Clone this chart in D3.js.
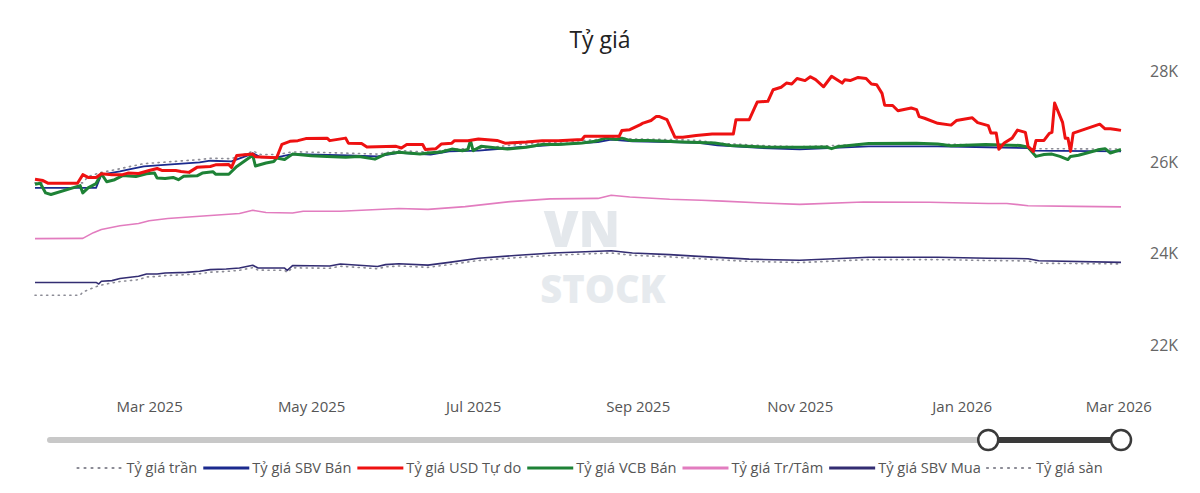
<!DOCTYPE html>
<html>
<head>
<meta charset="utf-8">
<script src="https://cdn.jsdelivr.net/npm/d3@7"></script>
<style>
  body { margin: 0; background: #fff; }
  text { font-family: "Open Sans", "Noto Sans", sans-serif; }
</style>
</head>
<body>
<div id="chart"></div>
<script>

// ---- data (VND per USD) ----
const tyGiaTran = [
  ["2025-01-17",25550],["2025-02-04",25550],["2025-02-06",25690],["2025-02-11",25780],["2025-02-18",25860],
  ["2025-02-21",25900],["2025-02-27",25970],["2025-03-08",26010],["2025-03-20",26060],["2025-03-24",26090],
  ["2025-04-01",26080],["2025-04-08",26220],["2025-04-09",26250],["2025-04-12",26170],["2025-04-18",26170],
  ["2025-04-23",26220],["2025-04-26",26230],["2025-05-15",26200],["2025-05-26",26180],["2025-06-03",26260],
  ["2025-06-15",26220],["2025-06-22",26290],["2025-07-03",26300],["2025-07-18",26390],["2025-08-02",26440],
  ["2025-08-17",26500],["2025-08-22",26550],["2025-08-30",26510],["2025-09-13",26500],["2025-09-24",26480],
  ["2025-10-01",26420],["2025-10-17",26370],["2025-11-01",26340],["2025-11-27",26400],["2025-12-23",26400],
  ["2026-01-11",26380],["2026-01-26",26360],["2026-01-27",26300],["2026-03-02",26290]
];

const sbvBan = [
  ["2025-01-17",25440],["2025-02-09",25440],["2025-02-11",25730],["2025-02-18",25800],["2025-02-21",25840],
  ["2025-02-27",25910],["2025-03-08",25950],["2025-03-20",26000],["2025-03-24",26035],["2025-04-01",26020],
  ["2025-04-08",26170],["2025-04-09",26200],["2025-04-12",26110],["2025-04-18",26110],["2025-04-23",26170],
  ["2025-04-26",26180],["2025-05-15",26150],["2025-05-26",26130],["2025-06-03",26210],["2025-06-15",26170],
  ["2025-06-22",26240],["2025-07-03",26255],["2025-07-18",26330],["2025-08-02",26390],["2025-08-17",26445],
  ["2025-08-22",26500],["2025-08-30",26460],["2025-09-13",26445],["2025-09-24",26425],["2025-10-01",26370],
  ["2025-10-17",26315],["2025-11-01",26285],["2025-11-27",26350],["2025-12-23",26350],["2026-01-11",26330],
  ["2026-01-26",26310],["2026-01-27",26255],["2026-03-02",26240]
];

const usdTuDo = [
  ["2025-01-17",25630],["2025-01-20",25600],["2025-01-22",25540],["2025-02-02",25540],["2025-02-04",25730],
  ["2025-02-06",25670],["2025-02-09",25670],["2025-02-11",25750],["2025-02-15",25730],["2025-02-19",25730],
  ["2025-02-21",25765],["2025-02-25",25755],["2025-03-01",25820],["2025-03-04",25865],["2025-03-06",25820],
  ["2025-03-11",25820],["2025-03-13",25800],["2025-03-16",25780],["2025-03-19",25890],["2025-03-24",25910],
  ["2025-03-26",25945],["2025-03-31",25950],["2025-04-01",25890],["2025-04-03",26150],["2025-04-09",26185],
  ["2025-04-10",26120],["2025-04-18",26100],["2025-04-20",26395],["2025-04-23",26460],["2025-04-26",26475],
  ["2025-04-29",26520],["2025-05-07",26530],["2025-05-08",26475],["2025-05-14",26530],["2025-05-15",26420],
  ["2025-05-20",26410],["2025-05-22",26335],["2025-06-02",26350],["2025-06-04",26315],["2025-06-06",26390],
  ["2025-06-12",26390],["2025-06-13",26280],["2025-06-17",26300],["2025-06-19",26400],["2025-06-23",26420],
  ["2025-06-24",26475],["2025-06-29",26475],["2025-07-03",26510],["2025-07-10",26480],["2025-07-13",26420],
  ["2025-07-21",26445],["2025-07-27",26475],["2025-08-02",26475],["2025-08-11",26500],["2025-08-12",26570],
  ["2025-08-25",26570],["2025-08-26",26695],["2025-08-29",26715],["2025-09-02",26825],["2025-09-03",26860],
  ["2025-09-06",26915],["2025-09-08",27005],["2025-09-09",27005],["2025-09-12",26935],["2025-09-15",26550],
  ["2025-09-18",26550],["2025-09-23",26590],["2025-09-29",26620],["2025-10-07",26620],["2025-10-08",26935],
  ["2025-10-13",26935],["2025-10-15",27190],["2025-10-16",27320],["2025-10-20",27335],["2025-10-22",27590],
  ["2025-10-25",27645],["2025-10-27",27735],["2025-10-29",27715],["2025-10-31",27835],["2025-11-03",27790],
  ["2025-11-05",27875],["2025-11-07",27810],["2025-11-10",27655],["2025-11-13",27885],["2025-11-17",27735],
  ["2025-11-18",27810],["2025-11-20",27790],["2025-11-23",27860],["2025-11-26",27835],["2025-11-28",27715],
  ["2025-11-30",27700],["2025-12-02",27510],["2025-12-03",27250],["2025-12-06",27245],["2025-12-08",27130],
  ["2025-12-13",27190],["2025-12-15",27155],["2025-12-16",27000],["2025-12-18",26965],["2025-12-23",26855],
  ["2025-12-28",26815],["2025-12-30",26915],["2026-01-05",26975],["2026-01-07",26870],["2026-01-11",26805],
  ["2026-01-12",26640],["2026-01-14",26640],["2026-01-15",26285],["2026-01-17",26425],["2026-01-20",26530],
  ["2026-01-22",26705],["2026-01-25",26655],["2026-01-26",26350],["2026-01-28",26240],["2026-01-29",26480],
  ["2026-02-01",26480],["2026-02-03",26635],["2026-02-04",26655],["2026-02-05",27300],["2026-02-08",26875],
  ["2026-02-09",26530],["2026-02-10",26530],["2026-02-11",26240],["2026-02-12",26640],["2026-02-22",26835],
  ["2026-02-24",26735],["2026-02-26",26735],["2026-02-28",26720],["2026-03-02",26700]
];

const vcbBan = [
  ["2025-01-17",25520],["2025-01-19",25540],["2025-01-21",25330],["2025-01-23",25295],["2025-02-03",25490],
  ["2025-02-04",25330],["2025-02-06",25440],["2025-02-09",25535],["2025-02-11",25750],["2025-02-13",25575],
  ["2025-02-16",25620],["2025-02-19",25710],["2025-02-24",25690],["2025-02-28",25750],["2025-03-03",25765],
  ["2025-03-04",25655],["2025-03-07",25645],["2025-03-10",25670],["2025-03-12",25620],["2025-03-14",25695],
  ["2025-03-19",25705],["2025-03-21",25765],["2025-03-25",25795],["2025-03-26",25740],["2025-03-31",25740],
  ["2025-04-03",25910],["2025-04-09",26155],["2025-04-10",25920],["2025-04-14",25985],["2025-04-17",26020],
  ["2025-04-18",26095],["2025-04-21",26060],["2025-04-24",26180],["2025-05-01",26145],["2025-05-07",26130],
  ["2025-05-14",26110],["2025-05-19",26130],["2025-05-25",26070],["2025-05-29",26180],["2025-06-03",26220],
  ["2025-06-11",26185],["2025-06-14",26205],["2025-06-19",26225],["2025-06-23",26290],["2025-06-27",26255],
  ["2025-06-29",26280],["2025-06-30",26475],["2025-07-01",26255],["2025-07-04",26350],["2025-07-10",26315],
  ["2025-07-14",26290],["2025-07-21",26330],["2025-07-27",26390],["2025-08-02",26390],["2025-08-11",26425],
  ["2025-08-16",26460],["2025-08-20",26530],["2025-08-24",26500],["2025-08-26",26530],["2025-08-29",26480],
  ["2025-09-05",26480],["2025-09-18",26445],["2025-09-30",26425],["2025-10-06",26370],["2025-10-19",26335],
  ["2025-11-02",26330],["2025-11-11",26335],["2025-11-13",26300],["2025-11-15",26340],["2025-11-27",26410],
  ["2025-12-15",26420],["2025-12-23",26400],["2025-12-28",26365],["2026-01-10",26390],["2026-01-23",26370],
  ["2026-01-26",26330],["2026-01-29",26130],["2026-02-01",26170],["2026-02-04",26180],["2026-02-07",26130],
  ["2026-02-10",26060],["2026-02-11",26130],["2026-02-14",26155],["2026-02-22",26280],["2026-02-24",26300],
  ["2026-02-26",26205],["2026-03-02",26280]
];

const trungTam = [
  ["2025-01-17",24330],["2025-02-04",24335],["2025-02-08",24460],["2025-02-11",24530],["2025-02-18",24610],
  ["2025-02-25",24660],["2025-03-01",24720],["2025-03-08",24770],["2025-03-20",24820],["2025-04-04",24880],
  ["2025-04-09",24950],["2025-04-14",24900],["2025-04-24",24890],["2025-04-28",24930],["2025-05-12",24930],
  ["2025-05-20",24950],["2025-06-03",24990],["2025-06-14",24970],["2025-06-28",25030],["2025-07-15",25140],
  ["2025-07-30",25200],["2025-08-17",25210],["2025-08-22",25280],["2025-08-29",25240],["2025-09-13",25190],
  ["2025-09-25",25170],["2025-10-03",25150],["2025-10-18",25110],["2025-11-01",25080],["2025-11-25",25130],
  ["2025-12-20",25125],["2026-01-11",25100],["2026-01-18",25100],["2026-01-26",25050],["2026-02-13",25035],
  ["2026-03-02",25025]
];

const sbvMua = [
  ["2025-01-17",23370],["2025-02-09",23370],["2025-02-10",23335],["2025-02-11",23395],["2025-02-15",23410],
  ["2025-02-18",23455],["2025-02-25",23505],["2025-02-28",23555],["2025-03-04",23555],["2025-03-07",23575],
  ["2025-03-15",23590],["2025-03-20",23615],["2025-03-24",23650],["2025-03-30",23665],["2025-04-04",23685],
  ["2025-04-09",23745],["2025-04-11",23685],["2025-04-21",23685],["2025-04-22",23635],["2025-04-24",23740],
  ["2025-05-08",23730],["2025-05-12",23775],["2025-05-26",23720],["2025-05-29",23760],["2025-06-03",23780],
  ["2025-06-14",23750],["2025-06-22",23810],["2025-07-03",23900],["2025-07-18",23965],["2025-07-31",24015],
  ["2025-08-22",24065],["2025-08-30",24015],["2025-09-13",23980],["2025-09-24",23940],["2025-10-13",23880],
  ["2025-11-01",23855],["2025-11-27",23920],["2025-12-23",23920],["2026-01-11",23900],["2026-01-26",23890],
  ["2026-01-30",23845],["2026-03-02",23810]
];

const tyGiaSan = [
  ["2025-01-17",23090],["2025-02-03",23090],["2025-02-04",23160],["2025-02-10",23300],["2025-02-15",23360],
  ["2025-02-18",23390],["2025-02-25",23430],["2025-02-28",23490],["2025-03-04",23500],["2025-03-07",23520],
  ["2025-03-15",23540],["2025-03-20",23560],["2025-03-24",23595],["2025-03-30",23610],["2025-04-04",23635],
  ["2025-04-09",23695],["2025-04-11",23640],["2025-04-21",23635],["2025-04-22",23590],["2025-04-24",23690],
  ["2025-05-08",23680],["2025-05-12",23725],["2025-05-26",23670],["2025-05-29",23710],["2025-06-03",23730],
  ["2025-06-14",23700],["2025-06-22",23760],["2025-07-03",23850],["2025-07-18",23915],["2025-07-31",23965],
  ["2025-08-22",24015],["2025-08-30",23965],["2025-09-13",23930],["2025-09-24",23890],["2025-10-13",23830],
  ["2025-11-01",23805],["2025-11-27",23870],["2025-12-23",23870],["2026-01-11",23850],["2026-01-26",23840],
  ["2026-01-30",23790],["2026-03-02",23775]
];

const yTicks = [22000, 24000, 26000, 28000];
const dateStart = "2025-01-17", dateEnd = "2026-03-02";
const sliderFrom = "2026-01-11";

// legend order
const series = [
  {name: "Tỷ giá trần",     data: tyGiaTran, color: "#8c8c96", width: 1.6, dash: "1.2,4.6", z: 5},
  {name: "Tỷ giá SBV Bán",  data: sbvBan,    color: "#1b2a8e", width: 1.8, dash: null,      z: 4},
  {name: "Tỷ giá USD Tự do",data: usdTuDo,   color: "#ee1111", width: 3,   dash: null,      z: 7},
  {name: "Tỷ giá VCB Bán",  data: vcbBan,    color: "#1e8236", width: 3,   dash: null,      z: 6},
  {name: "Tỷ giá Tr/Tâm",   data: trungTam,  color: "#e27cbf", width: 1.6, dash: null,      z: 2},
  {name: "Tỷ giá SBV Mua",  data: sbvMua,    color: "#332d72", width: 1.6, dash: null,      z: 3},
  {name: "Tỷ giá sàn",      data: tyGiaSan,  color: "#8c8c96", width: 1.6, dash: "1.2,4.6", z: 1}
];

const W = 1200, H = 493;
const parse = d3.utcParse("%Y-%m-%d");

const svg = d3.select("#chart").append("svg")
    .attr("width", W)
    .attr("height", H)
    .style("background", "#fff");

const x = d3.scaleUtc()
    .domain([parse(dateStart), parse(dateEnd)])
    .range([35, 1121]);

const y = d3.scaleLinear()
    .domain([22000, 28000])
    .range([345, 71]);

// watermark
const wm = svg.append("g")
    .attr("opacity", 0.6)
    .style("font-weight", 900)
    .attr("text-anchor", "middle");
wm.append("text")
    .attr("x", 582).attr("y", 247)
    .style("font-size", "50px")
    .attr("fill", "#d3d9e1")
    .text("VN");
wm.append("text")
    .attr("x", 603).attr("y", 303)
    .style("font-size", "38px")
    .attr("fill", "#d7dde3")
    .text("STOCK");

// title
svg.append("text")
    .attr("x", 600).attr("y", 48)
    .attr("text-anchor", "middle")
    .style("font-size", "23px")
    .attr("fill", "#222")
    .text("Tỷ giá");

// y axis on the right
const yAxis = svg.append("g")
    .attr("transform", "translate(1150,0)")
    .call(d3.axisRight(y).tickValues(yTicks).tickSize(0).tickFormat(d => (d / 1000) + "K"));
yAxis.select(".domain").remove();
yAxis.selectAll("text")
    .attr("x", 0)
    .style("font-size", "16px")
    .style("font-family", "'Open Sans', sans-serif")
    .attr("fill", "#666");

// x axis
const xAxis = svg.append("g")
    .attr("transform", "translate(0,398)")
    .call(d3.axisBottom(x).ticks(d3.utcMonth.every(2)).tickSize(0).tickFormat(d3.utcFormat("%b %Y")));
xAxis.select(".domain").remove();
xAxis.selectAll("text")
    .attr("dy", "0.71em")
    .style("font-size", "15px")
    .style("font-family", "'Open Sans', sans-serif")
    .attr("fill", "#555");

// lines
const line = d3.line()
    .x(d => x(parse(d[0])))
    .y(d => y(d[1]));

const drawOrder = series.slice().sort((a, b) => a.z - b.z);
svg.append("g").selectAll("path")
    .data(drawOrder)
    .join("path")
    .attr("d", s => line(s.data))
    .attr("fill", "none")
    .attr("stroke", s => s.color)
    .attr("stroke-width", s => s.width)
    .attr("stroke-dasharray", s => s.dash)
    .attr("stroke-linecap", s => s.dash ? "round" : "butt")
    .attr("stroke-linejoin", "round");

// range slider
const slY = 440;
const slLeft = x.range()[0] + 15, slRight = x.range()[1];
svg.append("line")
    .attr("x1", slLeft).attr("x2", slRight)
    .attr("y1", slY).attr("y2", slY)
    .attr("stroke", "#c8c8c8").attr("stroke-width", 6).attr("stroke-linecap", "round");
svg.append("line")
    .attr("x1", x(parse(sliderFrom))).attr("x2", slRight)
    .attr("y1", slY).attr("y2", slY)
    .attr("stroke", "#3a3a3a").attr("stroke-width", 6);
svg.selectAll(".handle")
    .data([parse(sliderFrom), parse(dateEnd)])
    .join("circle")
    .attr("class", "handle")
    .attr("cx", d => x(d)).attr("cy", slY).attr("r", 10)
    .attr("fill", "#fff").attr("stroke", "#3a3a3a").attr("stroke-width", 2.5);

// legend
const legend = svg.append("g");
let cx = 0;
series.forEach(s => {
    const g = legend.append("g");
    g.append("line")
        .attr("x1", 0).attr("x2", 46).attr("y1", 0).attr("y2", 0)
        .attr("stroke", s.color)
        .attr("stroke-width", s.dash ? 2 : 3)
        .attr("stroke-dasharray", s.dash ? "1.2,5.8" : null)
        .attr("stroke-linecap", s.dash ? "round" : "butt");
    const t = g.append("text")
        .attr("x", 49).attr("dy", "0.35em")
        .style("font-size", "14.6px")
        .attr("fill", "#555")
        .text(s.name);
    const w = 49 + t.node().getComputedTextLength();
    g.attr("transform", `translate(${cx},0)`);
    cx += w + 6;
});
const legendW = cx - 6;
legend.attr("transform", `translate(${590 - legendW / 2},468)`);

</script>
</body>
</html>
